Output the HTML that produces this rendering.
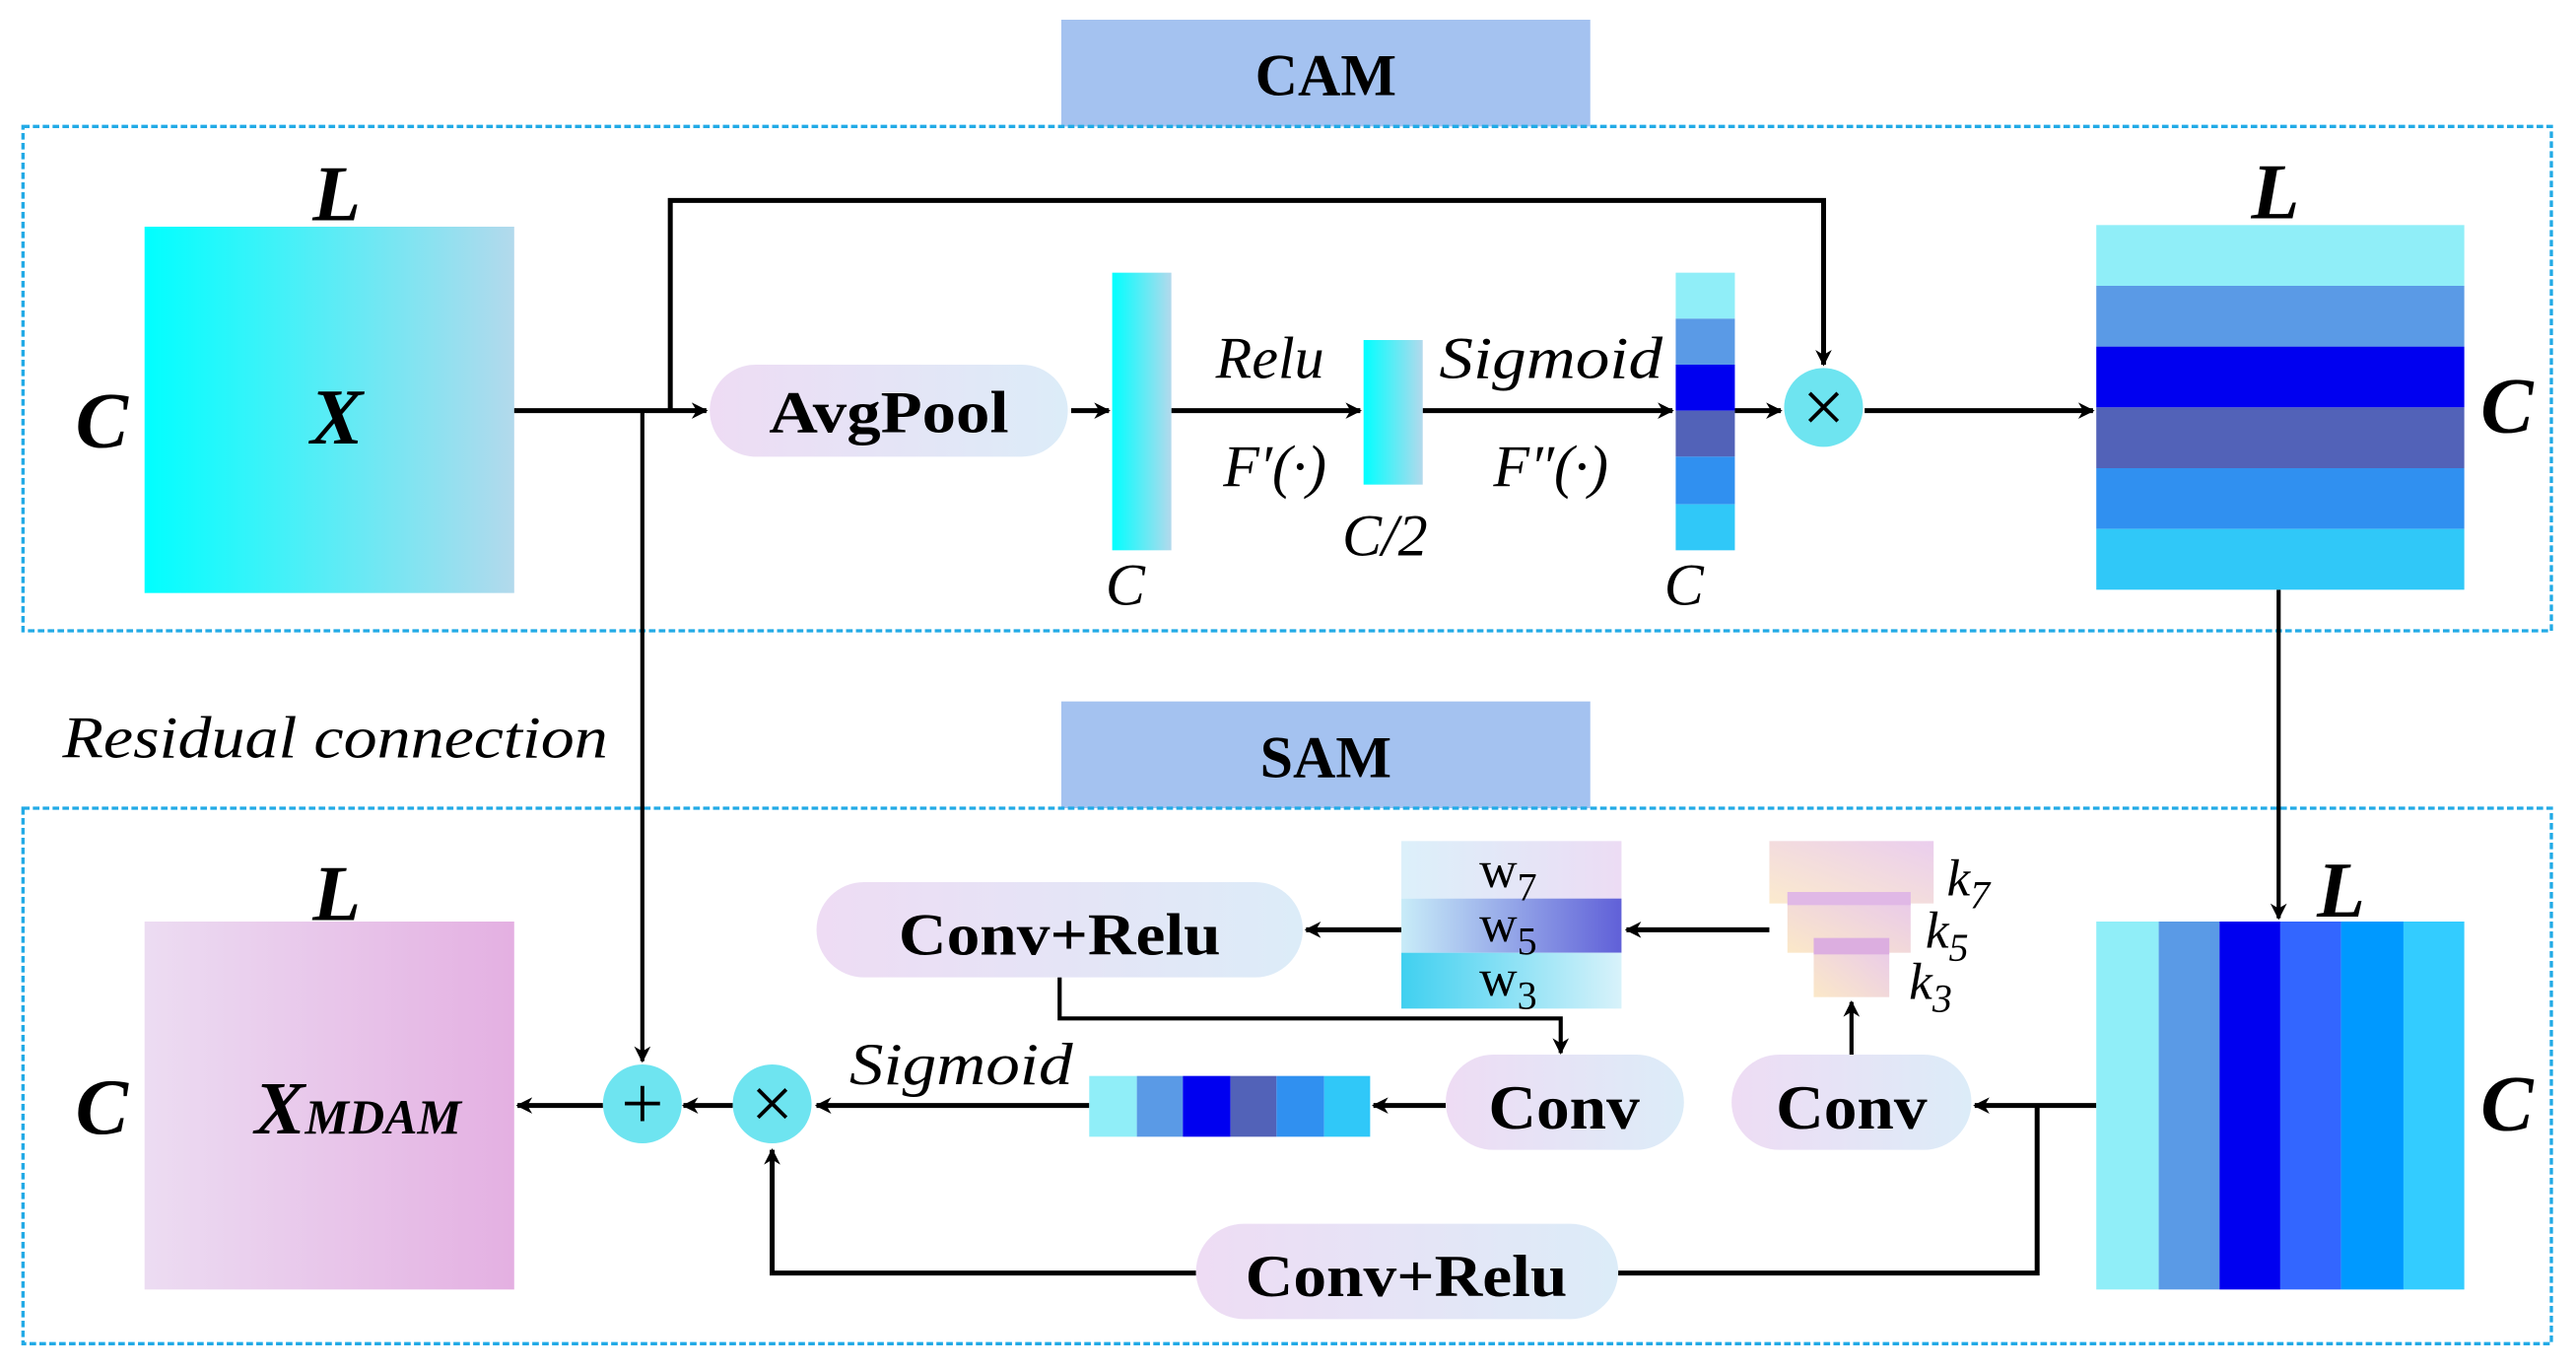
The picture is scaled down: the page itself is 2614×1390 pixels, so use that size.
<!DOCTYPE html>
<html><head><meta charset="utf-8"><style>html,body{margin:0;padding:0;background:#fff}svg{display:block}</style></head>
<body>
<svg width="2614" height="1390" viewBox="0 0 1568 834" xmlns="http://www.w3.org/2000/svg" preserveAspectRatio="none" font-family="'Liberation Serif', serif">
<defs>
<linearGradient id="gx" x1="0" x2="1"><stop offset="0" stop-color="#00ffff"/><stop offset="1" stop-color="#b3d9ec"/></linearGradient>
<linearGradient id="gm" x1="0" x2="1"><stop offset="0" stop-color="#ecdcf2"/><stop offset="1" stop-color="#e4b0e2"/></linearGradient>
<linearGradient id="gp" x1="0" x2="1"><stop offset="0" stop-color="#eedcf4"/><stop offset="1" stop-color="#dcecf8"/></linearGradient>
<linearGradient id="gk" x1="0" y1="1" x2="1" y2="0"><stop offset="0" stop-color="#fbe8c8"/><stop offset="1" stop-color="#e8c8ec"/></linearGradient>
<linearGradient id="gw7" x1="0" x2="1"><stop offset="0" stop-color="#dcf0fa"/><stop offset="1" stop-color="#ecdcf4"/></linearGradient>
<linearGradient id="gw5" x1="0" x2="1"><stop offset="0" stop-color="#c8ecf8"/><stop offset="1" stop-color="#6060d8"/></linearGradient>
<linearGradient id="gw3" x1="0" x2="1"><stop offset="0" stop-color="#40d0f0"/><stop offset="1" stop-color="#d8f2fa"/></linearGradient>
<marker id="a" markerWidth="10" markerHeight="10" refX="9" refY="5" orient="auto" markerUnits="userSpaceOnUse"><path d="M0,0 L10,5 L0,10 L3,5 z" fill="#000"/></marker>
</defs>
<rect x="646" y="12" width="322" height="65" fill="#a4c2f0"/>
<text x="807" y="58" font-size="36" font-weight="bold" text-anchor="middle">CAM</text>
<rect x="646" y="427" width="322" height="65" fill="#a4c2f0"/>
<text x="807" y="473" font-size="36" font-weight="bold" text-anchor="middle">SAM</text>
<rect x="14" y="77" width="1539" height="307" fill="none" stroke="#22aae6" stroke-width="2" stroke-dasharray="4,2"/>
<rect x="14" y="492" width="1539" height="326" fill="none" stroke="#22aae6" stroke-width="2" stroke-dasharray="4,2"/>

<rect x="88" y="138" width="225" height="223" fill="url(#gx)"/>
<text x="205" y="134" font-size="48" font-weight="bold" font-style="italic" text-anchor="middle">L</text>
<text x="62" y="272" font-size="48" font-weight="bold" font-style="italic" text-anchor="middle">C</text>
<text x="205" y="270" font-size="48" font-weight="bold" font-style="italic" text-anchor="middle">X</text>

<g stroke="#000" stroke-width="3" fill="none">
<line x1="313" y1="250" x2="430" y2="250" marker-end="url(#a)"/>
<polyline points="408,250 408,122 1110,122 1110,222" marker-end="url(#a)"/>
<line x1="391" y1="250" x2="391" y2="646" stroke-width="2.5" marker-end="url(#a)"/>
<line x1="652" y1="250" x2="675" y2="250" marker-end="url(#a)"/>
<line x1="713" y1="250" x2="828" y2="250" marker-end="url(#a)"/>
<line x1="866" y1="250" x2="1018" y2="250" marker-end="url(#a)"/>
<line x1="1056" y1="250" x2="1084" y2="250" marker-end="url(#a)"/>
<line x1="1135" y1="250" x2="1274" y2="250" marker-end="url(#a)"/>
<line x1="1387" y1="359" x2="1387" y2="559" stroke-width="2.5" marker-end="url(#a)"/>
<line x1="1276" y1="673" x2="1202" y2="673" marker-end="url(#a)"/>
<polyline points="1240,673 1240,775 985,775"/>
<polyline points="728,775 470,775 470,700" marker-end="url(#a)"/>
<line x1="1127" y1="642" x2="1127" y2="610" stroke-width="2.5" marker-end="url(#a)"/>
<line x1="1077" y1="566" x2="990" y2="566" marker-end="url(#a)"/>
<line x1="853" y1="566" x2="795" y2="566" marker-end="url(#a)"/>
<polyline points="645,595 645,620 950,620 950,641" stroke-width="2.5" marker-end="url(#a)"/>
<line x1="880" y1="673" x2="836" y2="673" marker-end="url(#a)"/>
<line x1="663" y1="673" x2="497" y2="673" marker-end="url(#a)"/>
<line x1="446" y1="673" x2="416" y2="673" marker-end="url(#a)"/>
<line x1="367" y1="673" x2="315" y2="673" marker-end="url(#a)"/>
</g>

<rect x="432" y="222" width="218" height="56" rx="28" fill="url(#gp)"/>
<text x="541" y="263" font-size="36" font-weight="bold" text-anchor="middle" textLength="146" lengthAdjust="spacingAndGlyphs">AvgPool</text>
<rect x="677" y="166" width="36" height="169" fill="url(#gx)"/>
<text x="685" y="368" font-size="36" font-style="italic" text-anchor="middle">C</text>
<text x="773" y="230" font-size="36" font-style="italic" text-anchor="middle">Relu</text>
<text x="776" y="296" font-size="36" font-style="italic" text-anchor="middle">F′(·)</text>
<rect x="830" y="207" width="36" height="88" fill="url(#gx)"/>
<text x="843" y="338" font-size="36" font-style="italic" text-anchor="middle">C/2</text>
<text x="944" y="230" font-size="36" font-style="italic" text-anchor="middle" textLength="136" lengthAdjust="spacingAndGlyphs">Sigmoid</text>
<text x="944" y="296" font-size="36" font-style="italic" text-anchor="middle">F″(·)</text>
<rect x="1020" y="166" width="36" height="28" fill="#90eef8"/>
<rect x="1020" y="194" width="36" height="28" fill="#5a9ae6"/>
<rect x="1020" y="222" width="36" height="28" fill="#0000f0"/>
<rect x="1020" y="250" width="36" height="28" fill="#5262b8"/>
<rect x="1020" y="278" width="36" height="29" fill="#3090f0"/>
<rect x="1020" y="307" width="36" height="28" fill="#30c8f8"/>
<text x="1025" y="368" font-size="36" font-style="italic" text-anchor="middle">C</text>
<circle cx="1110" cy="248" r="24" fill="#6ee4f0"/>
<text x="1110" y="263" font-size="46" text-anchor="middle">×</text>

<rect x="1276" y="137" width="224" height="37" fill="#90eef8"/>
<rect x="1276" y="174" width="224" height="37" fill="#5a9ae6"/>
<rect x="1276" y="211" width="224" height="37" fill="#0000f0"/>
<rect x="1276" y="248" width="224" height="37" fill="#5262b8"/>
<rect x="1276" y="285" width="224" height="37" fill="#3090f0"/>
<rect x="1276" y="322" width="224" height="37" fill="#30c8f8"/>
<text x="1385" y="133" font-size="48" font-weight="bold" font-style="italic" text-anchor="middle">L</text>
<text x="1526" y="263" font-size="48" font-weight="bold" font-style="italic" text-anchor="middle">C</text>

<rect x="1276" y="561" width="38" height="224" fill="#90eef8"/>
<rect x="1314" y="561" width="37" height="224" fill="#5a9ae6"/>
<rect x="1351" y="561" width="37" height="224" fill="#0000f0"/>
<rect x="1388" y="561" width="37" height="224" fill="#3366ff"/>
<rect x="1425" y="561" width="38" height="224" fill="#0099ff"/>
<rect x="1463" y="561" width="37" height="224" fill="#33ccff"/>
<text x="1425" y="558" font-size="48" font-weight="bold" font-style="italic" text-anchor="middle">L</text>
<text x="1526" y="688" font-size="48" font-weight="bold" font-style="italic" text-anchor="middle">C</text>

<rect x="1054" y="642" width="146" height="58" rx="29" fill="url(#gp)"/>
<text x="1127" y="687" font-size="38" font-weight="bold" text-anchor="middle" textLength="92" lengthAdjust="spacingAndGlyphs">Conv</text>
<rect x="728" y="745" width="257" height="58" rx="29" fill="url(#gp)"/>
<text x="856" y="789" font-size="36" font-weight="bold" text-anchor="middle" textLength="196" lengthAdjust="spacingAndGlyphs">Conv+Relu</text>

<rect x="1077" y="512" width="100" height="38" fill="url(#gk)" opacity="0.9"/>
<rect x="1088" y="543" width="75" height="37" fill="url(#gk)"/>
<rect x="1088" y="543" width="75" height="8" fill="#e0b8e6"/>
<rect x="1104" y="571" width="46" height="36" fill="url(#gk)"/>
<rect x="1104" y="571" width="46" height="10" fill="#dcaee0"/>
<text x="1185" y="545" font-size="32" font-style="italic">k<tspan font-size="24" dy="8">7</tspan></text>
<text x="1172" y="577" font-size="32" font-style="italic">k<tspan font-size="24" dy="8">5</tspan></text>
<text x="1162" y="608" font-size="32" font-style="italic">k<tspan font-size="24" dy="8">3</tspan></text>

<rect x="853" y="512" width="134" height="35" fill="url(#gw7)"/>
<rect x="853" y="547" width="134" height="33" fill="url(#gw5)"/>
<rect x="853" y="580" width="134" height="34" fill="url(#gw3)"/>
<text x="918" y="540" font-size="32" text-anchor="middle">w<tspan font-size="24" dy="8">7</tspan></text>
<text x="918" y="573" font-size="32" text-anchor="middle">w<tspan font-size="24" dy="8">5</tspan></text>
<text x="918" y="606" font-size="32" text-anchor="middle">w<tspan font-size="24" dy="8">3</tspan></text>

<rect x="497" y="537" width="296" height="58" rx="29" fill="url(#gp)"/>
<text x="645" y="581" font-size="36" font-weight="bold" text-anchor="middle" textLength="196" lengthAdjust="spacingAndGlyphs">Conv+Relu</text>
<rect x="880" y="642" width="145" height="58" rx="29" fill="url(#gp)"/>
<text x="952" y="687" font-size="38" font-weight="bold" text-anchor="middle" textLength="92" lengthAdjust="spacingAndGlyphs">Conv</text>

<rect x="663" y="655" width="29" height="37" fill="#90eef8"/>
<rect x="692" y="655" width="28" height="37" fill="#5a9ae6"/>
<rect x="720" y="655" width="29" height="37" fill="#0000f0"/>
<rect x="749" y="655" width="28" height="37" fill="#5262b8"/>
<rect x="777" y="655" width="29" height="37" fill="#3090f0"/>
<rect x="806" y="655" width="28" height="37" fill="#30c8f8"/>
<text x="585" y="660" font-size="36" font-style="italic" text-anchor="middle" textLength="136" lengthAdjust="spacingAndGlyphs">Sigmoid</text>

<circle cx="470" cy="672" r="24" fill="#6ee4f0"/>
<text x="470" y="687" font-size="46" text-anchor="middle">×</text>
<circle cx="391" cy="672" r="24" fill="#6ee4f0"/>
<text x="391" y="687" font-size="46" text-anchor="middle">+</text>

<rect x="88" y="561" width="225" height="224" fill="url(#gm)"/>
<text x="205" y="560" font-size="48" font-weight="bold" font-style="italic" text-anchor="middle">L</text>
<text x="62" y="690" font-size="48" font-weight="bold" font-style="italic" text-anchor="middle">C</text>
<text x="155" y="690" font-size="46" font-weight="bold" font-style="italic">X<tspan font-size="30">MDAM</tspan></text>

<text x="38" y="461" font-size="36" font-style="italic" textLength="332" lengthAdjust="spacingAndGlyphs">Residual connection</text>
</svg>
</body></html>
